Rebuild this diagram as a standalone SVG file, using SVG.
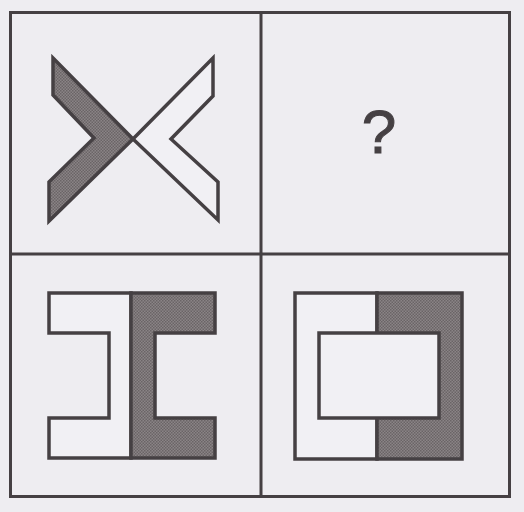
<svg xmlns="http://www.w3.org/2000/svg" width="524" height="512" viewBox="0 0 524 512">
<defs>
<pattern id="dots" width="3" height="3" patternUnits="userSpaceOnUse">
<rect width="3" height="3" fill="#8a8486"/>
<rect x="0" y="0" width="1.5" height="1.5" fill="#6a6466"/>
<rect x="1.5" y="1.5" width="1.5" height="1.5" fill="#6a6466"/>
</pattern>
<style>
.frame{fill:none;stroke:#454043;stroke-width:3}
.shape{stroke:#454043;stroke-width:3.5;stroke-linejoin:miter}
.light{fill:#f1f0f4}
.dark{fill:url(#dots)}
.q{font-family:"Liberation Sans",Arial,sans-serif;font-size:62px;fill:#454043;stroke:#454043;stroke-width:1}
</style>
</defs>
<rect width="524" height="512" fill="#eeedf1"/>
<g id="grid">
<rect class="frame" x="10.5" y="12.5" width="499" height="484"/>
<line class="frame" x1="261" y1="12.5" x2="261" y2="496.5"/>
<line class="frame" x1="10.5" y1="254" x2="509.5" y2="254"/>
</g>
<g id="cell-top-left">
<polygon class="shape dark" points="53,58 133,139 49,221 49,182 94,138 53,95"/>
<polygon class="shape light" points="213,58 213,96 171,139 218,182 218,220 133,139"/>
</g>
<g id="cell-top-right">
<text class="q" x="379" y="153" text-anchor="middle">?</text>
</g>
<g id="cell-bottom-left">
<polygon class="shape light" points="49,293 131,293 131,458 49,458 49,418 109,418 109,333 49,333"/>
<polygon class="shape dark" points="131,293 215,293 215,333 155,333 155,418 215,418 215,458 131,458"/>
</g>
<g id="cell-bottom-right">
<rect class="shape light" x="295" y="293" width="82" height="166"/>
<rect class="shape dark" x="377" y="293" width="85" height="166"/>
<rect class="shape light" x="319" y="333" width="120" height="85"/>
</g>
</svg>
